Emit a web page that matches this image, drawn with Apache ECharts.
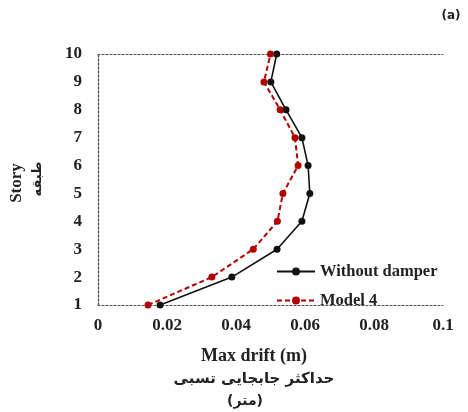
<!DOCTYPE html>
<html><head><meta charset="utf-8">
<script src="https://cdn.jsdelivr.net/npm/echarts@6/dist/echarts.min.js"></script>
<style>html,body{margin:0;padding:0;background:#fff}#c{width:468px;height:412px}</style>
</head><body><div id="c"></div>
<script>
var stories = [1,2,3,4,5,6,7,8,9,10];
var withoutDamper = [0.018,0.0388,0.0519,0.0591,0.0614,0.0609,0.0591,0.0545,0.0501,0.0518];
var model4 = [0.0145,0.033,0.045,0.052,0.0536,0.058,0.0571,0.0528,0.0481,0.05];
var xTicks = [0,0.02,0.04,0.06,0.08,0.1];

var serif = '"Liberation Serif","Times New Roman",serif';
var chart = echarts.init(document.getElementById('c'));
function pairs(v){ return stories.map(function(s,i){return [v[i], s];}); }
var dotted = {show:true, lineStyle:{color:'#555', width:1.2, type:[2,2]}};
chart.setOption({
  animation:false,
  grid:{left:98, right:25, top:54, bottom:107},
  xAxis:[{type:'value', min:0, max:0.1, interval:0.02, position:'bottom',
    axisLine:dotted, axisTick:{show:false}, splitLine:{show:false},
    axisLabel:{fontFamily:serif, fontWeight:'bold', fontSize:17, color:'#222', margin:12,
      formatter:function(v){ return String(Math.round(v*100)/100); }}},
    {type:'value', min:0, max:0.1, position:'top', axisLine:dotted, axisTick:{show:false}, axisLabel:{show:false}, splitLine:{show:false}}],
  yAxis:[{type:'value', min:1, max:10, interval:1, position:'left',
    axisLine:dotted, axisTick:{show:false}, splitLine:{show:false},
    axisLabel:{fontFamily:serif, fontWeight:'bold', fontSize:17, color:'#222', margin:16}},
    {type:'value', min:1, max:10, position:'right', axisLine:dotted, axisTick:{show:false}, axisLabel:{show:false}, splitLine:{show:false}}],
  legend:{orient:'vertical', left:271, top:258, itemWidth:38, itemHeight:10, itemGap:12,
    textStyle:{fontFamily:serif, fontWeight:'bold', fontSize:16.5, color:'#222'},
    data:['Without damper','Model 4']},
  series:[
    {name:'Without damper', type:'line', data:pairs(withoutDamper), symbol:'circle', symbolSize:7,
      lineStyle:{color:'#111', width:1.6}, itemStyle:{color:'#111'}},
    {name:'Model 4', type:'line', data:pairs(model4), symbol:'circle', symbolSize:7,
      lineStyle:{color:'#b00000', width:2, type:[5,3]}, itemStyle:{color:'#b00000'}}
  ],
  graphic:[
    {type:'text', x:254, y:356, style:{text:'Max drift (m)', font:'bold 18px '+serif, fill:'#222', textAlign:'center', textVerticalAlign:'middle'}},
    {type:'text', x:254, y:379, style:{text:'حداکثر جابجایی تسبی', font:'bold 15px "DejaVu Sans"', fill:'#222', textAlign:'center', textVerticalAlign:'middle'}},
    {type:'text', x:245, y:401, style:{text:'(متر)', font:'bold 14px "DejaVu Sans"', fill:'#222', textAlign:'center', textVerticalAlign:'middle'}},
    {type:'text', x:17, y:183, rotation:Math.PI/2, style:{text:'Story', font:'bold 17px '+serif, fill:'#222', textAlign:'center', textVerticalAlign:'middle'}},
    {type:'text', x:38, y:179, rotation:Math.PI/2, style:{text:'طبقه', font:'bold 13px "DejaVu Sans"', fill:'#222', textAlign:'center', textVerticalAlign:'middle'}},
    {type:'text', x:451, y:16, style:{text:'(a)', font:'bold 12px "DejaVu Sans"', fill:'#222', textAlign:'center', textVerticalAlign:'middle'}}
  ]
});
</script></body></html>
